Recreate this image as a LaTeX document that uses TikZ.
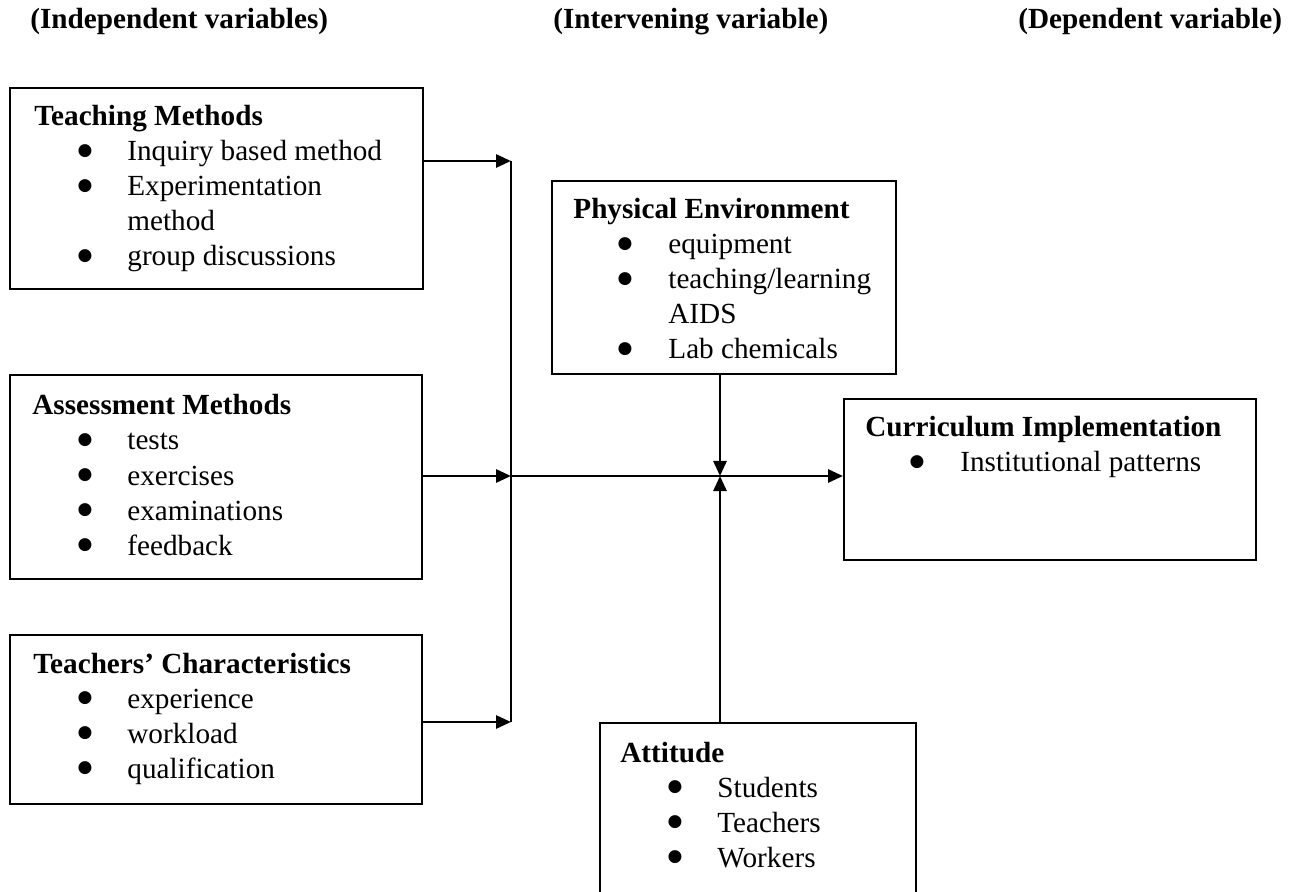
\documentclass[tikz,border=0pt]{standalone}
\usepackage{fontspec}
\setmainfont{Liberation Serif}
\newfontfamily\bulfont{DejaVu Sans}
\usetikzlibrary{arrows.meta}
\tikzset{
  boxframe/.style={draw=black, line width=1.1pt, inner sep=0pt, anchor=north west},
  hd/.style={font=\fontsize{14.6}{17.5}\selectfont\bfseries, anchor=base west, inner sep=0pt},
  itm/.style={font=\fontsize{14.6}{17.5}\selectfont, anchor=base west, inner sep=0pt},
  bul/.style={font=\bulfont\fontsize{8.5}{9}\selectfont, anchor=base, inner sep=0pt, yshift=2.6pt},
  conn/.style={line width=1.4pt},
  arr/.style={line width=1.4pt, -{Triangle[length=7.5pt,width=6.5pt]}}
}
\begin{document}
\begin{tikzpicture}[x=0.5pt,y=-0.5pt]
\clip (0,0) rectangle (1294,892);
\useasboundingbox (0,0) rectangle (1294,892);

% titles
\node[hd] (t1) at (30,29) {(Independent variables)};
\node[hd] (t2) at (553,29) {(Intervening variable)};
\node[hd] (t3) at (1018,29) {(Dependent variable)};

% boxes
\node[boxframe, minimum width=206.5pt, minimum height=100.5pt] (tm) at (9,87) {};
\node[boxframe, minimum width=206pt, minimum height=102pt] (am) at (9,374) {};
\node[boxframe, minimum width=206pt, minimum height=84.5pt] (tc) at (9,634) {};
\node[boxframe, minimum width=172pt, minimum height=96.5pt] (pe) at (551,180) {};
\node[boxframe, minimum width=206pt, minimum height=80.5pt] (ci) at (843,398) {};
\node[boxframe, minimum width=158pt, minimum height=150pt] (att) at (599,722) {};

% Teaching Methods
\node[hd] (tmh) at (34,126) {Teaching Methods};
\node[bul] (tmb1) at (85,161) {●};
\node[itm] (tmi1) at (127,161) {Inquiry based method};
\node[bul] (tmb2) at (85,196) {●};
\node[itm] (tmi2) at (127,196) {Experimentation};
\node[itm] (tmi3) at (127,231) {method};
\node[bul] (tmb4) at (85,266) {●};
\node[itm] (tmi4) at (127,266) {group discussions};

% Assessment Methods
\node[hd] (amh) at (32,415) {Assessment Methods};
\node[bul] (amb1) at (85,450) {●};
\node[itm] (ami1) at (127,450) {tests};
\node[bul] (amb2) at (85,485) {●};
\node[itm] (ami2) at (127,485) {exercises};
\node[bul] (amb3) at (85,520) {●};
\node[itm] (ami3) at (127,520) {examinations};
\node[bul] (amb4) at (85,555) {●};
\node[itm] (ami4) at (127,555) {feedback};

% Teachers' Characteristics
\node[hd] (tch) at (33,673) {Teachers’ Characteristics};
\node[bul] (tcb1) at (85,708) {●};
\node[itm] (tci1) at (127,708) {experience};
\node[bul] (tcb2) at (85,743) {●};
\node[itm] (tci2) at (127,743) {workload};
\node[bul] (tcb3) at (85,778) {●};
\node[itm] (tci3) at (127,778) {qualification};

% Physical Environment
\node[hd] (peh) at (573,219) {Physical Environment};
\node[bul] (peb1) at (625,254) {●};
\node[itm] (pei1) at (668,254) {equipment};
\node[bul] (peb2) at (625,289) {●};
\node[itm] (pei2) at (668,289) {teaching/learning};
\node[itm] (pei3) at (668,324) {AIDS};
\node[bul] (peb4) at (625,359) {●};
\node[itm] (pei4) at (668,359) {Lab chemicals};

% Curriculum Implementation
\node[hd] (cih) at (865,437) {Curriculum Implementation};
\node[bul] (cib1) at (917,472) {●};
\node[itm] (cii1) at (960,472) {Institutional patterns};

% Attitude
\node[hd] (ath) at (620,762) {Attitude};
\node[bul] (atb1) at (675,797) {●};
\node[itm] (ati1) at (717,797) {Students};
\node[bul] (atb2) at (675,832) {●};
\node[itm] (ati2) at (717,832) {Teachers};
\node[bul] (atb3) at (675,867) {●};
\node[itm] (ati3) at (717,867) {Workers};

% junctions
\coordinate (j1) at (511,161);
\coordinate (j2) at (511,476);
\coordinate (j3) at (511,722);
\coordinate (m) at (720,476);

% connectors
\draw[arr] (tm.east |- j1) -- (j1);
\draw[arr] (am.east |- j2) -- (j2);
\draw[arr] (tc.east |- j3) -- (j3);
\draw[conn] (j1) -- (j3);
\draw[arr] (j2) -- (ci.west |- j2);
\draw[arr] (pe.south -| m) -- (m);
\draw[arr] (att.north -| m) -- (m);
\end{tikzpicture}
\end{document}
